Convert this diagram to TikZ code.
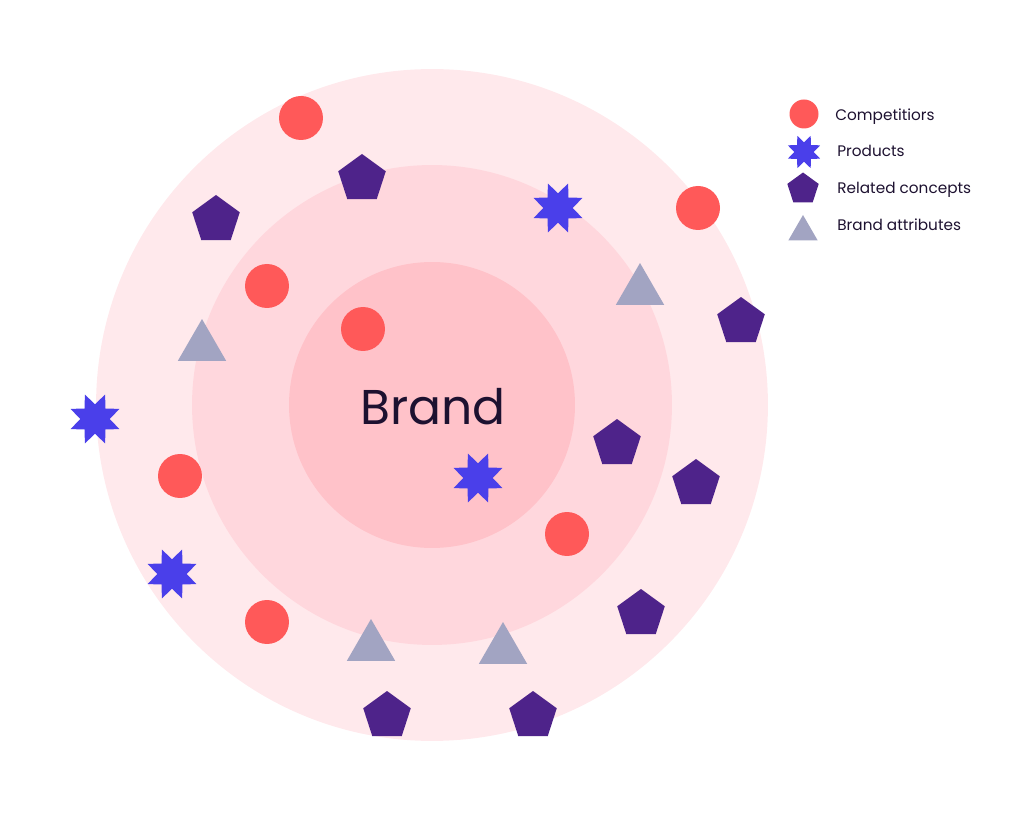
\documentclass[tikz,border=0pt]{standalone}
\usepackage{fontspec}
\setmainfont{Poppins}
\usetikzlibrary{shapes.geometric}

\definecolor{ringout}{HTML}{FFE9EC}
\definecolor{ringmid}{HTML}{FFD7DD}
\definecolor{ringin}{HTML}{FFC2C9}
\definecolor{compred}{HTML}{FF5959}
\definecolor{prodblue}{HTML}{4A3FEA}
\definecolor{concpurple}{HTML}{4E238A}
\definecolor{attrgrey}{HTML}{A2A4C2}
\definecolor{inkdark}{HTML}{1D1130}

\tikzset{
  competitor/.style={circle,fill=compred,inner sep=0,minimum size=0.88cm},
  product/.style={star,star points=8,star point ratio=1.8,shape border rotate=22.5,fill=prodblue,inner sep=0,minimum size=1.06cm},
  concept/.style={regular polygon,regular polygon sides=5,fill=concpurple,inner sep=0,minimum size=1.0cm},
  attribute/.style={regular polygon,regular polygon sides=3,fill=attrgrey,inner sep=0,minimum size=1.12cm},
  legendtext/.style={anchor=base west,inner sep=0,text=inkdark,font=\fontsize{8.7}{10}\selectfont},
}

\begin{document}
\begin{tikzpicture}[x=0.02cm,y=-0.02cm]

\useasboundingbox (0,0) rectangle (1024,813);

% rings
\node [circle,fill=ringout,minimum size=13.44cm] (ring-outer) at (432,405) {};
\node [circle,fill=ringmid,minimum size=9.6cm] (ring-mid) at (432,405) {};
\node [circle,fill=ringin,minimum size=5.72cm] (ring-in) at (432,405) {};

\node [anchor=base,inner sep=0,text=inkdark] (brand) at (433,425) {\fontsize{27.8}{28}\selectfont Brand};

% markers
\foreach \x/\y [count=\i] in {301/118, 698/208, 267/286, 363/329, 180/476, 567/534, 267/622} {
    \node [competitor] (comp-\i) at (\x,\y) {};
}

\foreach \x/\y [count=\i] in {558/208, 95/419, 478/478, 172/574} {
    \node [product] (prod-\i) at (\x,\y) {};
}

\foreach \x/\y [count=\i] in {362/179, 216/220, 741/322, 617/444, 696/484, 641/614, 387/716, 533/716} {
    \node [concept] (conc-\i) at (\x,\y) {};
}

\foreach \x/\y [count=\i] in {640/291, 202/347, 371/647, 503/650} {
    \node [attribute] (attr-\i) at (\x,\y) {};
}

%%%%%%%%%%%%%%%%%%%%%%%%%%%%%%%%%%%%%%%%%%%%%%%%%%%%%%%%%%%%%%%%%%%%%%%%%%%%%%%%%%%%%%%%

% legend
\node [competitor,minimum size=0.58cm] (key-comp) at (804,114) {};
\node [product,minimum size=0.70cm] (key-prod) at (804,152) {};
\node [concept,minimum size=0.66cm] (key-conc) at (803,189) {};
\node [attribute,minimum size=0.68cm] (key-attr) at (803,232) {};

\node [legendtext] (lab-comp) at (835,121) {Competitiors};
\node [legendtext] (lab-prod) at (837,157) {Products};
\node [legendtext] (lab-conc) at (837,194) {Related concepts};
\node [legendtext] (lab-attr) at (837,231) {Brand attributes};

\end{tikzpicture}
\end{document}
